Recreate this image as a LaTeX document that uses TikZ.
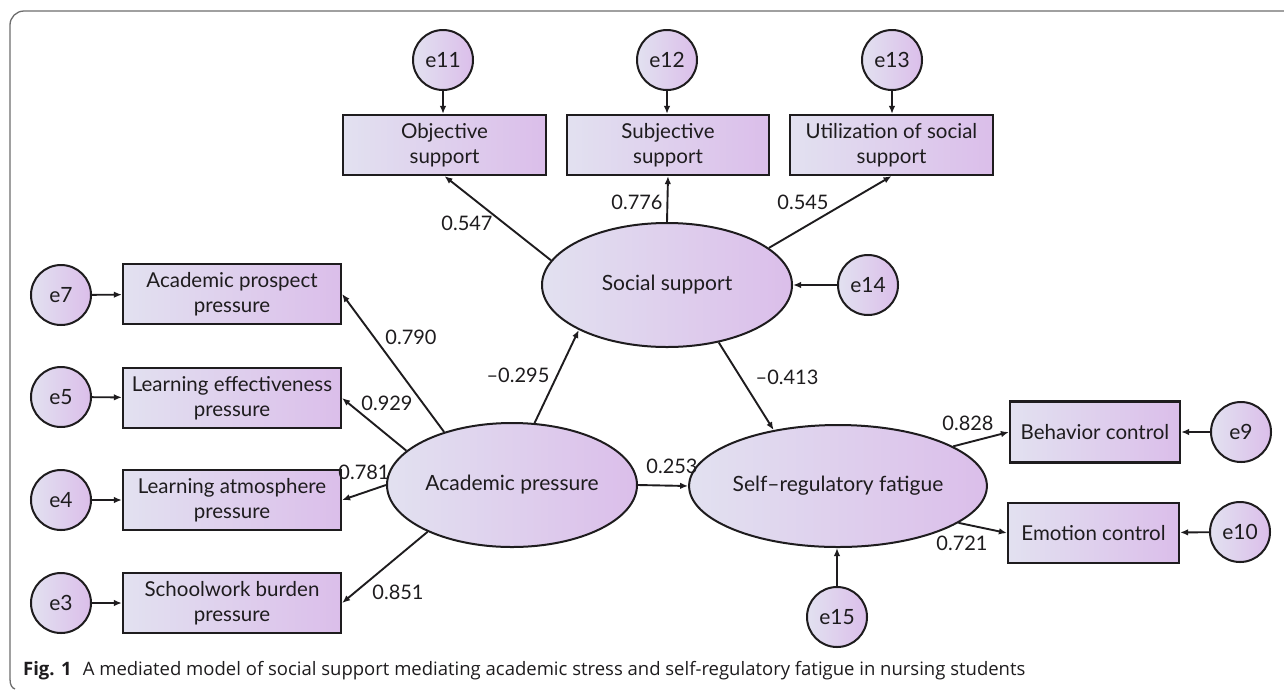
\documentclass[tikz,border=0pt]{standalone}
\usepackage{fontspec}
\setmainfont{Lato}
\newfontfamily\capfont{Open Sans}
\usetikzlibrary{shapes.geometric,arrows.meta}
\definecolor{lc}{RGB}{226,225,240}
\definecolor{rc}{RGB}{219,190,234}
\definecolor{ink}{RGB}{30,28,30}
\definecolor{framec}{RGB}{110,110,110}
\begin{document}
\begin{tikzpicture}[x=1pt,y=-1pt,
 every node/.style={text=ink},
 obsbox/.style={rectangle, draw=ink, line width=2.2pt, left color=lc, right color=rc, minimum height=60pt, inner sep=0pt, align=center, font=\fontsize{20.5}{25}\selectfont},
 latent/.style={ellipse, draw=ink, line width=2pt, left color=lc, right color=rc, minimum width=250pt, minimum height=124pt, inner sep=0pt, font=\fontsize{21}{25}\selectfont},
 err/.style={circle, draw=ink, line width=2pt, left color=lc, right color=rc, minimum size=60pt, inner sep=0pt, font=\fontsize{21}{25}\selectfont},
 arr/.style={draw=ink, line width=1.9pt, -{Latex[length=8pt,width=6.5pt]}},
 coef/.style={font=\fontsize{20}{24}\selectfont, inner sep=1pt}
]
\useasboundingbox (0,0) rectangle (1284,689);
\fill[white] (0,0) rectangle (1284,689);
% frame
\draw[framec, line width=1.3pt, rounded corners=14pt] (10,679) -- (10,11) -- (1284,11);
\draw[framec, line width=1.3pt] (10,679) .. controls (10,685) and (12,688) .. (15,689);

% left column
\node[err] (e7) at (61,295) {e7};
\node[err] (e5) at (61,397) {e5};
\node[err] (e4) at (61,500) {e4};
\node[err] (e3) at (61,603) {e3};
\node[obsbox, minimum width=218pt] (b7) at (232,294) {Academic prospect\\pressure};
\node[obsbox, minimum width=218pt] (b5) at (232,398) {Learning effectiveness\\pressure};
\node[obsbox, minimum width=218pt] (b4) at (232,500) {Learning atmosphere\\pressure};
\node[obsbox, minimum width=218pt] (b3) at (232,603) {Schoolwork burden\\pressure};

% top row
\node[err] (e11) at (443,60) {e11};
\node[err] (e12) at (667,60) {e12};
\node[err] (e13) at (892,60) {e13};
\node[obsbox, minimum width=203pt] (obj) at (444.5,145) {Objective\\support};
\node[obsbox, minimum width=202pt] (subj) at (668,145) {Subjective\\support};
\node[obsbox, minimum width=203pt] (util) at (891.5,145) {Utilization of social\\support};

% latent variables
\node[latent] (ss) at (667,285) {Social support};
\node[latent] (ap) at (512,485) {Academic pressure};
\node[latent, minimum width=252pt, minimum height=122pt] (srf) at (838,486) {Self–regulatory fatigue};
\node[err] (e14) at (868,285) {e14};
\node[err] (e15) at (837,617) {e15};

% right side
\node[obsbox, minimum width=170pt, minimum height=61pt] (beh) at (1095,432) {Behavior control};
\node[obsbox, minimum width=171pt] (emo) at (1093.5,533) {Emotion control};
\node[err] (e9) at (1241,432) {e9};
\node[err] (e10) at (1240,532) {e10};

% error arrows
\draw[arr] (e7) -- (b7);
\draw[arr] (e5) -- (b5);
\draw[arr] (e4) -- (b4);
\draw[arr] (e3) -- (b3);
\draw[arr] (e11) -- (e11 |- obj.north);
\draw[arr] (e12) -- (e12 |- subj.north);
\draw[arr] (e13) -- (e13 |- util.north);
\draw[arr] (e14) -- (ss);
\draw[arr] (e15) -- (e15 |- srf.south);
\draw[arr] (e9) -- (beh);
\draw[arr] (e10) -- (emo);

% structural paths
\draw[arr] (ss.168) -- (obj.south);
\draw[arr] (ss.north) -- (subj.south);
\draw[arr] (ss.20) -- (util.south);
\draw[arr] (ap.70) -- (ss.207);
\draw[arr] (ss.312) -- (srf.139);
\draw[arr] (ap.east) -- (srf.west);
\draw[arr] (ap.142) -- (b7.east);
\draw[arr] (ap.162) -- (b5.east);
\draw[arr] (ap.west) -- (b4.east);
\draw[arr] (ap.209) -- (b3.east);
\draw[arr] (srf.19) -- (beh.west);
\draw[arr] (srf.343) -- (emo.west);

% coefficients
\node[coef] (c1) at (467,223) {0.547};
\node[coef] (c2) at (637,202) {0.776};
\node[coef] (c3) at (803,202) {0.545};
\node[coef] (c4) at (518,375) {–0.295};
\node[coef] (c5) at (787,377) {–0.413};
\node[coef] (c6) at (411,337) {0.790};
\node[coef] (c7) at (387,403) {0.929};
\node[coef] (c8) at (364,472) {0.781};
\node[coef] (c9) at (398,592) {0.851};
\node[coef] (c10) at (672,466) {0.253};
\node[coef] (c11) at (968,423) {0.828};
\node[coef] (c12) at (962,543) {0.721};

% caption
\node[anchor=base west, inner sep=0pt, font=\capfont\fontsize{18.5}{22}\selectfont] (cap) at (23,675) {\textbf{Fig. 1}\hspace{0.6em}A mediated model of social support mediating academic stress and self-regulatory fatigue in nursing students};
\end{tikzpicture}
\end{document}
